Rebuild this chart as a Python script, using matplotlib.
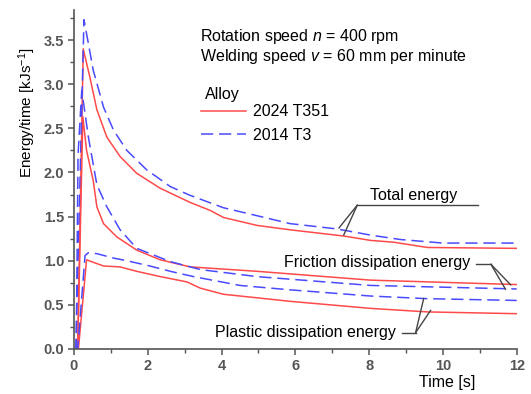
import matplotlib
matplotlib.use("Agg")
import matplotlib.pyplot as plt
from matplotlib.ticker import MultipleLocator, FormatStrFormatter

# ---- data (time [s], energy/time [kJ/s]) ----
t_red_total = [0.0, 0.1, 0.25, 0.43, 0.62, 0.89, 1.25, 1.70, 2.34, 3.15, 3.69, 4.05, 4.96, 5.86, 7.31, 8.04, 8.66, 9.58, 12.0]
v_red_total = [0.0, 0.0, 3.40, 3.08, 2.71, 2.40, 2.18, 1.99, 1.82, 1.66, 1.57, 1.49, 1.40, 1.35, 1.28, 1.23, 1.21, 1.15, 1.14]

t_blue_total = [0.0, 0.05, 0.27, 0.39, 0.52, 0.80, 1.07, 1.43, 1.97, 2.61, 3.15, 4.05, 4.96, 5.86, 7.13, 8.04, 8.85, 10.0, 12.0]
v_blue_total = [0.0, 0.0, 3.73, 3.46, 3.16, 2.74, 2.48, 2.25, 2.03, 1.84, 1.74, 1.60, 1.51, 1.42, 1.36, 1.29, 1.24, 1.20, 1.20]

t_red_fric = [0.0, 0.1, 0.24, 0.34, 0.52, 0.62, 0.80, 1.16, 1.70, 2.34, 3.15, 4.96, 8.04, 12.0]
v_red_fric = [0.0, 0.0, 2.63, 2.25, 1.91, 1.61, 1.42, 1.27, 1.12, 1.01, 0.93, 0.88, 0.78, 0.73]

t_blue_fric = [0.0, 0.06, 0.11, 0.21, 0.39, 0.62, 0.89, 1.25, 1.70, 2.61, 3.42, 4.96, 8.04, 12.0]
v_blue_fric = [0.0, 0.0, 2.20, 2.93, 2.40, 1.86, 1.61, 1.35, 1.14, 0.99, 0.90, 0.82, 0.72, 0.68]

t_red_plast = [0.0, 0.12, 0.34, 0.80, 1.25, 1.70, 2.34, 3.06, 3.42, 4.05, 5.86, 8.04, 9.58, 12.0]
v_red_plast = [0.0, 0.0, 1.01, 0.94, 0.93, 0.88, 0.82, 0.76, 0.69, 0.62, 0.54, 0.46, 0.42, 0.40]

t_blue_plast = [0.0, 0.1, 0.3, 0.39, 0.62, 1.07, 1.43, 2.06, 2.61, 3.24, 4.5, 5.86, 8.04, 9.58, 12.0]
v_blue_plast = [0.0, 0.0, 1.06, 1.09, 1.08, 1.03, 1.00, 0.94, 0.88, 0.82, 0.72, 0.67, 0.60, 0.57, 0.55]

series_labels = ["2024 T351", "2014 T3"]
legend_title = "Alloy"
xlabel = "Time [s]"
ylabel = "Energy/time [kJs$^{-1}$]"
info_lines = ["Rotation speed $\\it{n}$ = 400 rpm", "Welding speed $\\it{v}$ = 60 mm per minute"]

RED = "#ff4a4a"
BLUE = "#4a4aff"
FONT = ["Liberation Sans", "DejaVu Sans"]

plt.rcParams['font.family'] = FONT
plt.rcParams['mathtext.fontset'] = 'custom'
plt.rcParams['mathtext.it'] = 'Liberation Sans:italic'
plt.rcParams['mathtext.rm'] = 'Liberation Sans'

fig = plt.figure(figsize=(5.31, 3.94), dpi=100)
ax = fig.add_axes([74 / 531, 45 / 394, (516.7 - 74) / 531, 339 / 394])

dash = (0, (8, 3.8))
l1, = ax.plot(t_red_total, v_red_total, color=RED, lw=1.1)
l2, = ax.plot(t_blue_total, v_blue_total, color=BLUE, lw=1.1, linestyle=dash)
ax.plot(t_red_fric, v_red_fric, color=RED, lw=1.1)
ax.plot(t_blue_fric, v_blue_fric, color=BLUE, lw=1.1, linestyle=dash)
ax.plot(t_red_plast, v_red_plast, color=RED, lw=1.1)
ax.plot(t_blue_plast, v_blue_plast, color=BLUE, lw=1.1, linestyle=dash)

ax.set_xlim(0, 12)
ax.set_ylim(0, 3.84)
for s in ["top", "right"]:
    ax.spines[s].set_visible(False)
for s in ["left", "bottom"]:
    ax.spines[s].set_color("#555555")
    ax.spines[s].set_linewidth(1.2)
ax.xaxis.set_major_locator(MultipleLocator(2))
ax.xaxis.set_minor_locator(MultipleLocator(1))
ax.yaxis.set_major_locator(MultipleLocator(0.5))
ax.yaxis.set_minor_locator(MultipleLocator(0.25))
ax.yaxis.set_major_formatter(FormatStrFormatter('%.1f'))
ax.tick_params(which='major', length=4, width=1.1, color="#555555", labelsize=10.5,
               labelcolor="#555555", pad=3)
ax.tick_params(which='minor', length=3, width=1.0, color="#555555")
for lab in ax.get_xticklabels() + ax.get_yticklabels():
    lab.set_fontweight('bold')

FS = 11.5
fig.text(447 / 531, 1 - 383 / 394, xlabel, ha='center', va='center', fontsize=FS)
fig.text(27 / 531, 1 - 113 / 394, ylabel, ha='center', va='center', rotation=90, fontsize=11)

# info text
fig.text(200 / 531, 1 - 37 / 394, info_lines[0], ha='left', va='center', fontsize=FS)
fig.text(200 / 531, 1 - 57 / 394, info_lines[1], ha='left', va='center', fontsize=FS)

# legend
fig.text(205 / 531, 1 - 95 / 394, legend_title, ha='left', va='center', fontsize=FS)
leg = ax.legend([l1, l2], series_labels, loc='upper left',
                bbox_to_anchor=((200.7 - 74) / 442.7, (349 - 104.5) / 339), frameon=False,
                fontsize=FS, handlelength=2.85, handletextpad=0.4, labelspacing=0.52,
                borderaxespad=0, borderpad=0)

# annotations with leader lines
def leader(text, tx, ty, ha, corner, hend, targets):
    ax.text(tx, ty, text, ha=ha, va='center', fontsize=FS)
    ax.plot([corner[0], hend], [corner[1], corner[1]], color="#444444", lw=1.0)
    for xy in targets:
        ax.annotate("", xy=xy, xytext=corner,
                    arrowprops=dict(arrowstyle='-', color="#444444", lw=1.0,
                                    shrinkA=0, shrinkB=0))

leader("Total energy", 9.2, 1.74, 'center', (7.68, 1.63), 10.94, [(7.18, 1.37), (7.31, 1.29)])
leader("Friction dissipation energy", 10.75, 0.985, 'right', (11.30, 0.96), 10.89, [(11.70, 0.675), (11.84, 0.725)])
leader("Plastic dissipation energy", 8.72, 0.19, 'right', (9.26, 0.185), 8.90, [(9.48, 0.574), (9.67, 0.44)])

fig.savefig("out.png", dpi=100)
